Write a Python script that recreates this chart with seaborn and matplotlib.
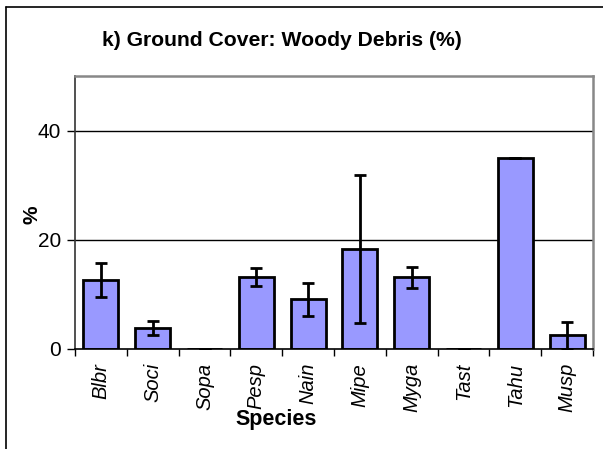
import matplotlib
matplotlib.use("Agg")
import matplotlib.pyplot as plt
from matplotlib.lines import Line2D
import seaborn as sns
import pandas as pd
import numpy as np

# Mean woody-debris ground cover (%) per species, with standard errors
species = ["Blbr", "Soci", "Sopa", "Pesp", "Nain", "Mipe", "Myga", "Tast", "Tahu", "Musp"]
cover = [12.7, 3.8, 0.0, 13.1, 9.1, 18.3, 13.1, 0.0, 35.0, 2.5]
se = [3.1, 1.3, 0.0, 1.65, 3.0, 13.6, 1.9, 0.0, 0.0, 2.5]
y_ticks = [0, 20, 40]

sns.set_theme(style="white")
plt.rcParams["font.family"] = ["Liberation Sans", "DejaVu Sans"]
plt.rcParams["text.color"] = "black"
plt.rcParams["axes.labelcolor"] = "black"
plt.rcParams["xtick.color"] = "black"
plt.rcParams["ytick.color"] = "black"

df = pd.DataFrame({"Species": species, "Cover": cover})

fig = plt.figure(figsize=(6.03, 4.49), dpi=100)
ax = fig.add_axes([75 / 603, 1 - 349 / 449, (593 - 75) / 603, (349 - 76) / 449])

sns.barplot(data=df, x="Species", y="Cover", order=species, color="#9999FF",
            saturation=1, width=0.675, edgecolor="black", linewidth=2.0, ax=ax)

# Error bars: symmetric SE, clipped at zero
lower = [min(s, c) for s, c in zip(se, cover)]
ax.errorbar(np.arange(len(species)), cover, yerr=[lower, se], fmt="none",
            ecolor="black", elinewidth=2.0, capsize=4.5, capthick=2.0, zorder=5)

ax.set_ylim(0, 50)
ax.set_xlim(-0.5, len(species) - 0.5)
ax.set_yticks(y_ticks)
ax.set_yticklabels([str(t) for t in y_ticks], fontsize=15)
ax.tick_params(axis="y", direction="out", length=6, width=1, color="black", pad=4, left=True)

# Horizontal gridlines
for t in y_ticks[1:]:
    ax.axhline(t, color="black", linewidth=1.0, zorder=0)

# Category labels (italic, vertical) with boundary ticks between categories
ax.set_xticks(np.arange(len(species)))
ax.set_xticklabels(species, rotation=90, fontsize=14.5, style="italic", va="top", ha="center")
ax.tick_params(axis="x", which="major", length=0, pad=10)
ax.set_xticks(np.arange(-0.5, len(species)), minor=True)
ax.tick_params(axis="x", which="minor", direction="out", length=5, width=1, color="black", bottom=True)

for side in ["top", "right"]:
    ax.spines[side].set_color("#888888")
    ax.spines[side].set_linewidth(1.8)
ax.spines["left"].set_color("#333333")
ax.spines["left"].set_linewidth(1.2)
ax.spines["bottom"].set_color("black")
ax.spines["bottom"].set_linewidth(1.2)

ax.set_ylabel("%", fontsize=15, fontweight="bold", rotation=90)
ax.yaxis.set_label_coords(-(75 - 42) / 518, (349 - 215) / 273)
ax.set_xlabel("Species", fontsize=15.5, fontweight="bold")
ax.xaxis.set_label_coords((276 - 75) / 518, -(409 - 349) / 273)

fig.text(281.5 / 603, 1 - 40 / 449, "k) Ground Cover: Woody Debris (%)",
         fontsize=15.2, fontweight="bold", ha="center", va="center")

# Frame lines along the left and top of the chart area
fig.add_artist(Line2D([6 / 603, 6 / 603], [0, 1 - 7 / 449], color="black", linewidth=1.2,
                      transform=fig.transFigure))
fig.add_artist(Line2D([6 / 603, 1], [1 - 7 / 449, 1 - 7 / 449], color="black", linewidth=1.2,
                      transform=fig.transFigure))

fig.savefig("out.png", dpi=100)
